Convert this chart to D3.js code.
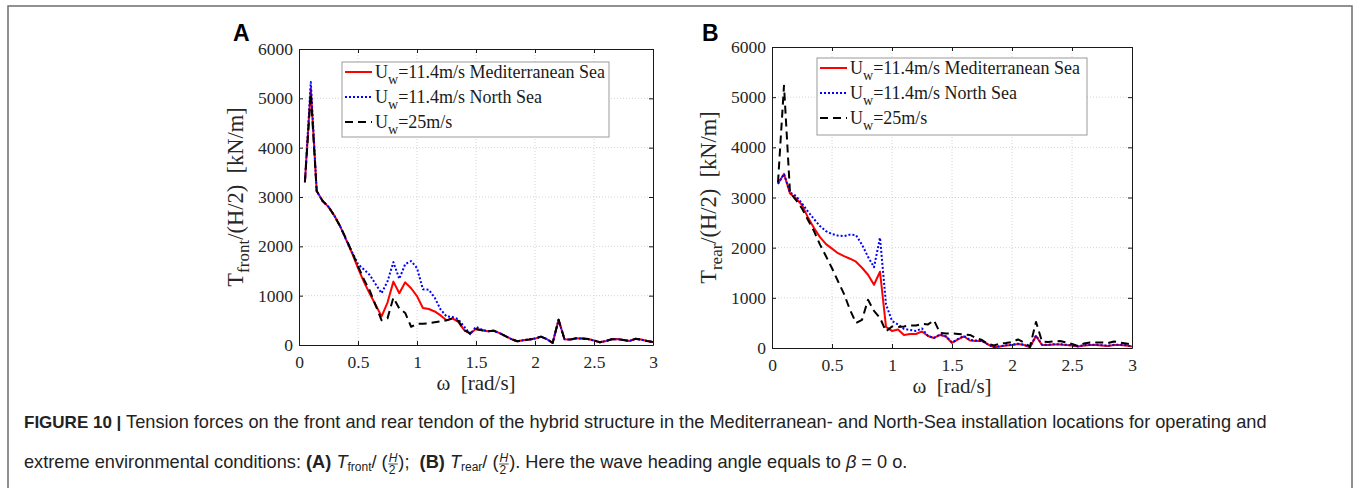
<!DOCTYPE html>
<html>
<head>
<meta charset="utf-8">
<script src="https://cdn.jsdelivr.net/npm/d3@7"></script>
<style>
  body { margin: 0; background: #fff; }
  svg { display: block; }
  text { white-space: pre; }
</style>
</head>
<body>
<div id="chart"></div>
<script>
// wave frequency grid [rad/s]
var omega = [0.05, 0.10, 0.15, 0.20, 0.25, 0.30, 0.35, 0.40, 0.45, 0.50,
             0.55, 0.60, 0.65, 0.70, 0.75, 0.80, 0.85, 0.90, 0.95, 1.00,
             1.05, 1.10, 1.15, 1.20, 1.25, 1.30, 1.35, 1.40, 1.45, 1.50,
             1.55, 1.60, 1.65, 1.70, 1.75, 1.80, 1.85, 1.90, 1.95, 2.00,
             2.05, 2.10, 2.15, 2.20, 2.25, 2.30, 2.35, 2.40, 2.45, 2.50,
             2.55, 2.60, 2.65, 2.70, 2.75, 2.80, 2.85, 2.90, 2.95, 3.00];

// panel A : front tendon
var frontMed = [3300, 5200, 3120, 2920, 2800, 2620, 2400, 2130, 1860, 1560,
                1280, 1040, 810, 580, 860, 1285, 1050, 1270, 1150, 990,
                750, 730, 680, 600, 500, 540, 470, 300, 230, 330,
                300, 280, 290, 240, 180, 120, 75, 95, 110, 130,
                170, 120, 45, 510, 115, 110, 135, 130, 120, 90,
                55, 80, 115, 120, 100, 80, 125, 110, 80, 60];
var frontNorth = [3300, 5330, 3120, 2920, 2800, 2620, 2400, 2130, 1880, 1640,
                  1530, 1420, 1230, 1050, 1290, 1680, 1340, 1640, 1700, 1560,
                  1130, 1120, 960, 720, 580, 570, 520, 370, 220, 370,
                  310, 280, 290, 240, 180, 120, 75, 95, 110, 130,
                  170, 120, 45, 510, 115, 110, 135, 130, 120, 90,
                  55, 80, 115, 120, 100, 80, 125, 110, 80, 60];
var frontExtreme = [3300, 5100, 3120, 2920, 2800, 2620, 2400, 2150, 1880, 1600,
                    1330, 1100, 800, 500, 540, 960, 740, 650, 370, 430,
                    430, 440, 460, 480, 500, 540, 490, 300, 240, 320,
                    300, 280, 290, 240, 180, 120, 75, 95, 110, 130,
                    170, 120, 45, 510, 115, 110, 135, 130, 120, 90,
                    55, 80, 115, 120, 100, 80, 125, 110, 80, 60];

// panel B : rear tendon
var rearMed = [3280, 3470, 3080, 2980, 2850, 2600, 2390, 2210, 2070, 1980,
               1890, 1830, 1780, 1720, 1600, 1460, 1260, 1520, 420, 340,
               370, 260, 280, 280, 330, 240, 200, 260, 230, 100,
               170, 230, 150, 140, 140, 70, 15, 30, 50, 60,
               80, 60, 15, 240, 60, 60, 70, 70, 60, 50,
               30, 50, 60, 60, 50, 40, 60, 60, 50, 30];
var rearNorth = [3270, 3470, 3100, 3030, 2880, 2720, 2570, 2430, 2330, 2270,
                 2240, 2230, 2260, 2250, 2060, 1820, 1610, 2200, 870, 540,
                 470, 380, 360, 340, 390, 240, 200, 270, 230, 110,
                 180, 240, 160, 150, 140, 70, 20, 35, 55, 65,
                 85, 65, 20, 250, 65, 65, 75, 75, 65, 55,
                 35, 55, 65, 65, 55, 45, 65, 65, 55, 35];
var rearExtreme = [3300, 5230, 3100, 2950, 2780, 2550, 2330, 2060, 1830, 1590,
                   1330, 1080, 760, 500, 560, 960, 740, 600, 330, 430,
                   420, 430, 450, 450, 480, 470, 550, 300, 290, 290,
                   280, 270, 260, 200, 160, 80, 50, 90, 100, 120,
                   170, 110, 30, 520, 130, 120, 130, 140, 110, 80,
                   40, 90, 110, 110, 110, 100, 130, 110, 90, 70];

var xTicks = [0, 0.5, 1, 1.5, 2, 2.5, 3];
var yTicks = [0, 1000, 2000, 3000, 4000, 5000, 6000];
var seriesNames = ["=11.4m/s Mediterranean Sea", "=11.4m/s North Sea", "=25m/s"];

var serif = "'Liberation Serif', 'Times New Roman', serif";
var sans = "'Liberation Sans', Arial, Helvetica, sans-serif";

var W = 1356, H = 488;
var svg = d3.select("#chart").append("svg")
  .attr("width", W).attr("height", H);

// figure frame
svg.append("rect")
  .attr("x", 8).attr("y", 6).attr("width", 1344).attr("height", 500)
  .attr("fill", "none").attr("stroke", "#6e6e6e").attr("stroke-width", 1.5);

var styles = [
  { color: "#ff0000", dash: null },
  { color: "#0000ff", dash: "2,2" },
  { color: "#000000", dash: "8,5" }
];

function drawPanel(p) {
  var x = d3.scaleLinear().domain([0, 3]).range([p.left, p.right]);
  var y = d3.scaleLinear().domain([0, 6000]).range([p.bottom, p.top]);
  var g = svg.append("g");

  // grid
  g.append("g").selectAll("line").data(xTicks.slice(1, -1)).enter().append("line")
    .attr("x1", d => x(d)).attr("x2", d => x(d))
    .attr("y1", p.top).attr("y2", p.bottom)
    .attr("stroke", "#d4d4d4").attr("stroke-dasharray", "1,2");
  g.append("g").selectAll("line").data(yTicks.slice(1, -1)).enter().append("line")
    .attr("y1", d => y(d)).attr("y2", d => y(d))
    .attr("x1", p.left).attr("x2", p.right)
    .attr("stroke", "#d4d4d4").attr("stroke-dasharray", "1,2");

  // lines
  var clipId = "clip" + p.name;
  svg.append("clipPath").attr("id", clipId).append("rect")
    .attr("x", p.left).attr("y", p.top)
    .attr("width", p.right - p.left).attr("height", p.bottom - p.top);

  var line = d3.line()
    .x((d, i) => x(omega[i]))
    .y(d => y(d));

  p.series.forEach(function(s, k) {
    g.append("path")
      .attr("clip-path", "url(#" + clipId + ")")
      .attr("d", line(s))
      .attr("fill", "none")
      .attr("stroke", styles[k].color)
      .attr("stroke-width", 2)
      .attr("stroke-dasharray", styles[k].dash)
      .attr("stroke-linejoin", "round");
  });

  // axes (box with inward ticks)
  var fmt = d3.format("~g");
  g.append("g").attr("transform", "translate(0," + p.bottom + ")")
    .call(d3.axisBottom(x).tickValues(xTicks).tickFormat(fmt)
      .tickSizeInner(-4).tickSizeOuter(0).tickPadding(11));
  g.append("g").attr("transform", "translate(" + p.left + ",0)")
    .call(d3.axisLeft(y).tickValues(yTicks).tickFormat(fmt)
      .tickSizeInner(-4).tickSizeOuter(0).tickPadding(6));
  g.append("g").attr("transform", "translate(0," + p.top + ")")
    .call(d3.axisTop(x).tickValues(xTicks).tickFormat("")
      .tickSizeInner(-4).tickSizeOuter(0));
  g.append("g").attr("transform", "translate(" + p.right + ",0)")
    .call(d3.axisRight(y).tickValues(yTicks).tickFormat("")
      .tickSizeInner(-4).tickSizeOuter(0));

  g.selectAll(".domain, .tick line").attr("stroke", "#1a1a1a").attr("stroke-width", 1);
  g.selectAll(".tick text")
    .attr("font-family", serif).attr("font-size", 17.5).attr("fill", "#262626");

  // axis titles
  g.append("text")
    .attr("x", (p.left + p.right) / 2).attr("y", p.bottom + 45)
    .attr("text-anchor", "middle")
    .attr("font-family", serif).attr("font-size", 21).attr("fill", "#262626")
    .text("\u03c9  [rad/s]");

  var yl = g.append("text")
    .attr("transform", "translate(" + (p.left - 56) + "," + ((p.top + p.bottom) / 2) + ") rotate(-90)")
    .attr("text-anchor", "middle")
    .attr("font-family", serif).attr("font-size", 22.5).attr("fill", "#262626");
  yl.append("tspan").text("T");
  yl.append("tspan").attr("dy", 6).attr("font-size", 17).text(p.sub);
  yl.append("tspan").attr("dy", -6).text("/(H/2)  [kN/m]");

  // panel letter
  g.append("text")
    .attr("x", p.letterX).attr("y", 40.5)
    .attr("font-family", sans).attr("font-weight", "bold").attr("font-size", 23)
    .attr("fill", "#000").text(p.name);

  // legend
  var lg = g.append("g");
  lg.append("rect")
    .attr("x", p.leg.x).attr("y", p.leg.y).attr("width", p.leg.w).attr("height", p.leg.h)
    .attr("fill", "#fff").attr("stroke", "#9a9a9a").attr("stroke-width", 1);
  seriesNames.forEach(function(name, k) {
    var ly = p.leg.y + 10 + k * 25;
    lg.append("line")
      .attr("x1", p.leg.x + 3).attr("x2", p.leg.x + 30)
      .attr("y1", ly).attr("y2", ly)
      .attr("stroke", styles[k].color).attr("stroke-width", 2)
      .attr("stroke-dasharray", styles[k].dash);
    var t = lg.append("text")
      .attr("x", p.leg.x + 33).attr("y", ly + 6)
      .attr("font-family", serif).attr("font-size", 18).attr("fill", "#1a1a1a");
    t.append("tspan").text("U");
    t.append("tspan").attr("dy", 6).attr("font-size", 14).text("w");
    t.append("tspan").attr("dy", -6).text(name);
  });
}

drawPanel({
  name: "A", sub: "front", letterX: 233,
  left: 299, right: 653, top: 49, bottom: 345,
  series: [frontMed, frontNorth, frontExtreme],
  leg: { x: 342, y: 62, w: 267, h: 75 }
});
drawPanel({
  name: "B", sub: "rear", letterX: 702,
  left: 772, right: 1132, top: 47, bottom: 348,
  series: [rearMed, rearNorth, rearExtreme],
  leg: { x: 817, y: 58, w: 270, h: 77 }
});

// caption
var capSize = 18.2;
var cap = svg.append("g").attr("font-family", sans).attr("fill", "#222");

function runText(x, y, pieces) {
  var cx = x;
  pieces.forEach(function(p) {
    if (p.frac) {
      var size = 12;
      var a = cap.append("text").attr("x", cx + 1).attr("y", y - 6)
        .attr("font-size", size).attr("font-style", "italic").text(p.frac[0]);
      var b = cap.append("text").attr("x", cx + 1).attr("y", y + 6)
        .attr("font-size", size).text(p.frac[1]);
      var w = Math.max(a.node().getComputedTextLength(), b.node().getComputedTextLength()) + 2;
      cap.append("line").attr("x1", cx + 0.5).attr("x2", cx + w - 0.5)
        .attr("y1", y - 4).attr("y2", y - 4).attr("stroke", "#222").attr("stroke-width", 0.8);
      cx += w;
      return;
    }
    var t = cap.append("text").attr("x", cx).attr("y", y + (p.dy || 0))
      .attr("font-size", p.size || capSize)
      .attr("font-weight", p.bold ? "bold" : null)
      .attr("font-style", p.italic ? "italic" : null)
      .text(p.t);
    cx += t.node().getComputedTextLength();
  });
}

runText(24, 428, [
  { t: "FIGURE 10 | ", bold: true, size: 17 },
  { t: "Tension forces on the front and rear tendon of the hybrid structure in the Mediterranean- and North-Sea installation locations for operating and" }
]);
runText(24, 468, [
  { t: "extreme environmental conditions: " },
  { t: "(A)", bold: true },
  { t: " " },
  { t: "T", italic: true },
  { t: "front", size: 12, dy: 3 },
  { t: "/ (" },
  { frac: ["H", "2"] },
  { t: ");  " },
  { t: "(B)", bold: true },
  { t: " " },
  { t: "T", italic: true },
  { t: "rear", size: 12, dy: 3 },
  { t: "/ (" },
  { frac: ["H", "2"] },
  { t: "). Here the wave heading angle equals to " },
  { t: "\u03b2", italic: true },
  { t: " = 0 o." }
]);
</script>
</body>
</html>
